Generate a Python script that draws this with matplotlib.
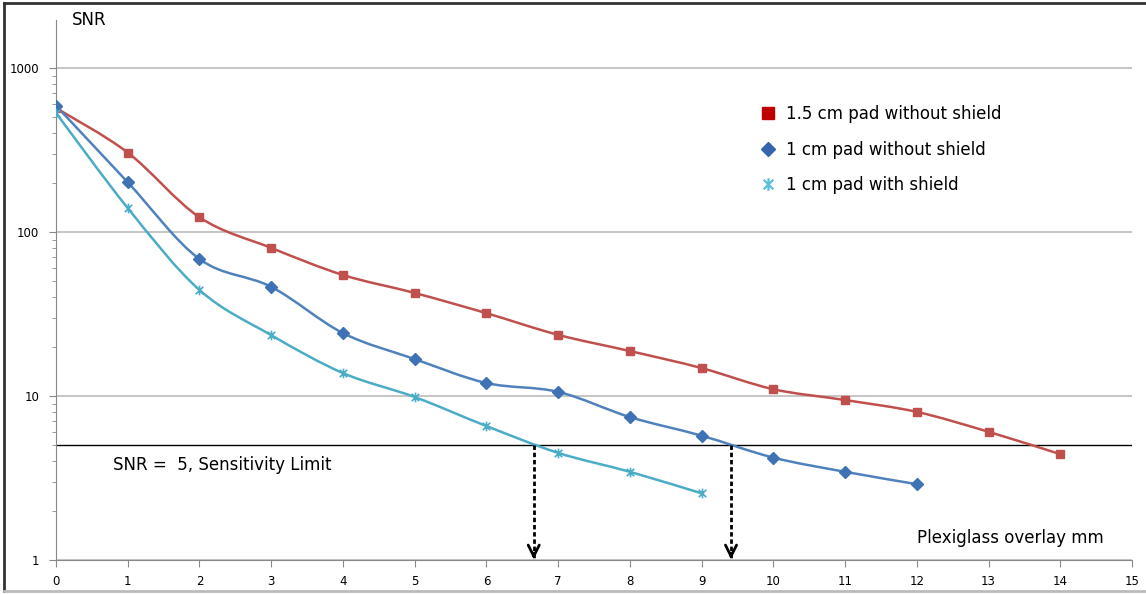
import matplotlib.pyplot as plt
import numpy as np
from matplotlib.path import Path
from matplotlib.patches import PathPatch
from matplotlib.lines import Line2D

plt.rcParams['font.family'] = ['DejaVu Sans']

# data
overlay = [0, 1, 2, 3, 4, 5, 6, 7, 8, 9, 10, 11, 12, 13, 14]
pad15_no_shield = [570, 305, 123, 80, 54.7, 42.5, 32, 23.6, 18.8, 14.8, 11.0, 9.45, 8.0, 6.05, 4.42]
pad1_no_shield = [589, 201, 68.4, 46.3, 24.2, 16.8, 12.0, 10.6, 7.44, 5.73, 4.21, 3.45, 2.90]
pad1_shield = [532, 140, 44.3, 23.5, 13.8, 9.86, 6.56, 4.5, 3.45, 2.55]
snr_limit = 5
limit_crossings = [6.66, 9.41]

red = '#C0504D'
blue = '#4F81BD'
cyan = '#4BACC6'


def smooth_path(xs, ys):
    # Excel-style smoothed line: Catmull-Rom segments as cubic Beziers in log space
    px = np.array(xs, dtype=float)
    py = np.log10(np.array(ys, dtype=float))
    verts = [(px[0], py[0])]
    codes = [Path.MOVETO]
    n = len(px)
    for i in range(n - 1):
        p0 = i - 1 if i > 0 else i
        p3 = i + 2 if i + 2 < n else i + 1
        c1 = (px[i] + (px[i + 1] - px[p0]) / 6, py[i] + (py[i + 1] - py[p0]) / 6)
        c2 = (px[i + 1] - (px[p3] - px[i]) / 6, py[i + 1] - (py[p3] - py[i]) / 6)
        verts += [c1, c2, (px[i + 1], py[i + 1])]
        codes += [Path.CURVE4] * 3
    verts = [(vx, 10 ** vy) for vx, vy in verts]
    return Path(verts, codes)


star = Path([(-1, -1), (1, 1), (-1, 1), (1, -1), (0, -1.3), (0, 1.3)],
            [Path.MOVETO, Path.LINETO, Path.MOVETO, Path.LINETO, Path.MOVETO, Path.LINETO])

fig = plt.figure(figsize=(11.46, 5.94), dpi=100)
ax = fig.add_axes([56 / 1146, 34 / 594, 1076 / 1146, 540 / 594])
ax.set_yscale('log')
ax.set_xlim(0, 15)
ax.set_ylim(1, 10 ** (3 + 48 / 164))

series = [
    (pad15_no_shield, red, 's', 6, '#C0504D', '1.5 cm pad without shield'),
    (pad1_no_shield, blue, 'D', 6, '#3F72B5', '1 cm pad without shield'),
    (pad1_shield, cyan, star, 7, '#4BACC6', '1 cm pad with shield'),
]
for vals, col, mk, ms, mcol, lab in series:
    xs = overlay[:len(vals)]
    ax.add_patch(PathPatch(smooth_path(xs, vals), fill=False, edgecolor=col, lw=1.8, zorder=3))
    if mk is star:
        ax.plot(xs, vals, linestyle='none', marker=mk, ms=ms, mfc='none', mec=mcol, mew=1.2, zorder=4)
    else:
        ax.plot(xs, vals, linestyle='none', marker=mk, ms=ms, mfc=mcol, mec=mcol, zorder=4)

# sensitivity limit and arrows
ax.axhline(snr_limit, color='black', lw=1, zorder=2)
for xc in limit_crossings:
    ax.plot([xc, xc], [snr_limit, 1.02], color='black', lw=2, ls=(0, (1.6, 1.0)), zorder=5)
    ax.annotate('', xy=(xc, 1.01), xytext=(xc, 1.1),
                arrowprops=dict(arrowstyle='->', lw=2, color='black',
                                mutation_scale=20, shrinkA=0, shrinkB=0), zorder=5)

ax.text(0.8, 3.8, 'SNR =  5, Sensitivity Limit', fontsize=12, va='center')
ax.text(12.0, 1.36, 'Plexiglass overlay mm', fontsize=12, va='center')
ax.text(0.015, 1.0, 'SNR', transform=ax.transAxes, fontsize=12, va='center')

# axes styling
for s in ['top', 'right']:
    ax.spines[s].set_visible(False)
for s in ['left', 'bottom']:
    ax.spines[s].set_color('#888888')
ax.set_xticks(range(0, 16))
ax.set_yticks([1, 10, 100, 1000])
ax.set_yticklabels(['1', '10', '100', '1000'])
ax.tick_params(axis='both', which='major', labelsize=8.5, color='#888888', length=5)
ax.tick_params(axis='y', which='major', pad=7)
ax.tick_params(axis='x', which='major', pad=6)
ax.tick_params(axis='y', which='minor', color='#888888', length=3)
ax.yaxis.set_minor_formatter(plt.NullFormatter())
ax.grid(axis='y', which='major', color='#BBBBBB', lw=1.2)
ax.set_axisbelow(True)

handles = [
    Line2D([], [], ls='none', marker='s', ms=8, mfc='#C00000', mec='#C00000'),
    Line2D([], [], ls='none', marker='D', ms=7, mfc='#3465AE', mec='#3465AE'),
    Line2D([], [], ls='none', marker=star, ms=9, mfc='none', mec='#5BC0DE', mew=1.6),
]
ax.legend(handles, [s[5] for s in series], loc='upper left', bbox_to_anchor=(0.64, 0.87),
          frameon=False, fontsize=12, handletextpad=0.6, labelspacing=1.05, handlelength=1.0)

# chart-area frame
fig.add_artist(Line2D([4 / 1146, 1], [1 - 3 / 594, 1 - 3 / 594], color='#333333', lw=2, transform=fig.transFigure))
fig.add_artist(Line2D([4 / 1146, 4 / 1146], [3 / 594, 1 - 3 / 594], color='#333333', lw=2, transform=fig.transFigure))
fig.add_artist(Line2D([4 / 1146, 1], [3 / 594, 3 / 594], color='#BBBBBB', lw=2, transform=fig.transFigure))

fig.savefig('out.png', dpi=100)
